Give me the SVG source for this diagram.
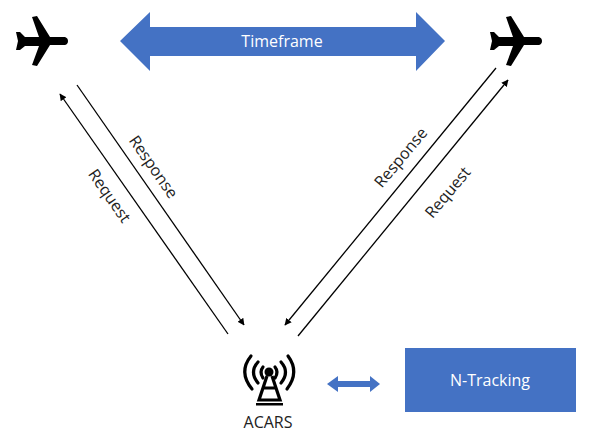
<svg xmlns="http://www.w3.org/2000/svg" width="604" height="440" viewBox="0 0 604 440">
<style>
.c{stroke:#000;stroke-width:1.3;fill:none}
.t{font-family:"Open Sans","Noto Sans",sans-serif;font-size:16px;fill:#222}
.w{font-family:"Open Sans","Noto Sans",sans-serif;font-size:16px;fill:#fff;text-anchor:middle}
.b{fill:#4472c4}
</style>
<defs>
<marker id="a" viewBox="0 0 10 10" refX="9" refY="5" markerWidth="7" markerHeight="7" markerUnits="userSpaceOnUse" orient="auto"><path d="M0 0L10 5L0 10z" fill="#000"/></marker>
<path id="p" d="M16 32L20 32L25 37L39 37L32 17L37 16L50 37L65 37Q68 38 68 41Q68 44 65 45L50 45L37 66L32 65L39 46L25 46L20 50L16 50L18 41z"/>
</defs>
<rect width="604" height="440" fill="#fff"/>
<g id="connectors">
<path class="c" d="M228 334L60 94" marker-end="url(#a)"/>
<path class="c" d="M77 85L244 325" marker-end="url(#a)"/>
<path class="c" d="M496 68L285 325" marker-end="url(#a)"/>
<path class="c" d="M298 336L508 80" marker-end="url(#a)"/>
<path class="b" d="M327 384L338 376L338 381L370 381L370 376L380 384L370 392L370 387L338 387L338 392z"/>
</g>
<g id="plane-left"><use href="#p"/></g>
<g id="plane-right"><use href="#p" x="474"/></g>
<g id="timeframe">
<path class="b" d="M120 41L150 12L150 27L416 27L416 12L445 41L416 71L416 56L150 56L150 71z"/>
<text class="w" x="282" y="47">Timeframe</text>
</g>
<g id="labels">
<text class="t" text-anchor="middle" transform="translate(149 170) rotate(55)">Response</text>
<text class="t" text-anchor="middle" transform="translate(105 199) rotate(55)">Request</text>
<text class="t" text-anchor="middle" transform="translate(405 161) rotate(-50)">Response</text>
<text class="t" text-anchor="middle" transform="translate(452 196) rotate(-50)">Request</text>
</g>
<g id="acars">
<g fill="none" stroke="#000" stroke-width="3.2" stroke-linecap="round">
<path d="M251 356Q238 372 252 389"/><path d="M258 362Q249 372 258 383"/><path d="M263 367Q259 372 263 378"/>
<path d="M288 356Q300 372 287 389"/><path d="M281 362Q290 372 281 383"/><path d="M275 367Q279 372 275 378"/>
</g>
<circle cx="269" cy="372" r="4.5"/>
<path fill="none" stroke="#000" stroke-width="3.2" d="M267 376L259 400L280 400L272 376M263 388L276 388"/>
<rect x="256" y="403" width="27" height="2.5"/>
<text class="t" x="268" y="428" text-anchor="middle">ACARS</text>
</g>
<g id="n-tracking">
<rect class="b" x="405" y="348" width="171" height="64"/>
<text class="w" x="490" y="386">N-Tracking</text>
</g>
</svg>
